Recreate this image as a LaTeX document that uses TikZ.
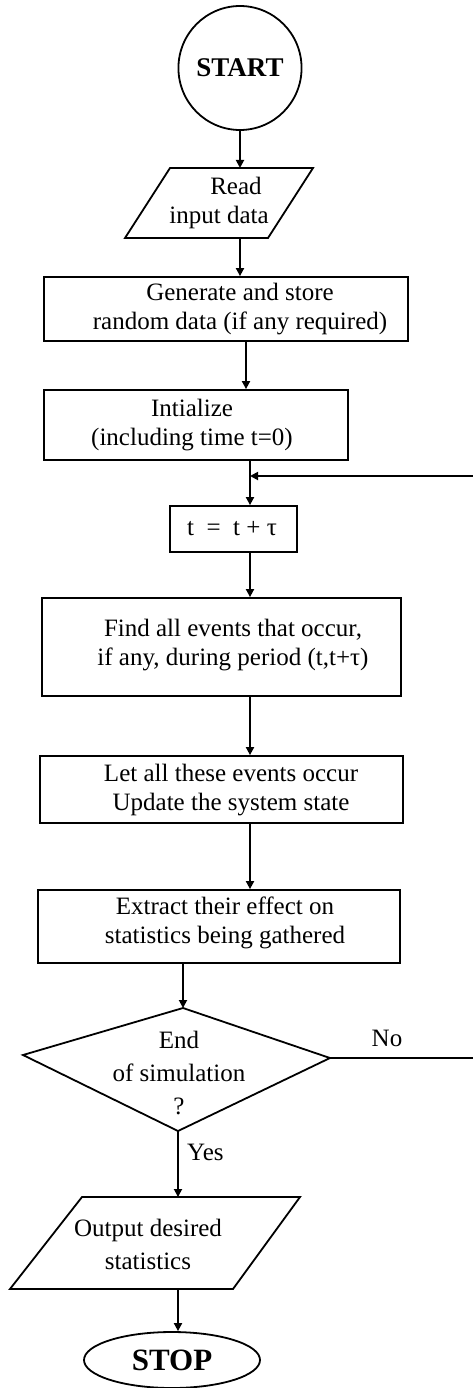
\documentclass[tikz,border=0pt]{standalone}
\usepackage{fontspec}
\setmainfont{Liberation Serif}
\usetikzlibrary{arrows.meta,shapes.geometric}
\begin{document}
\begin{tikzpicture}[x=1pt,y=-1pt,
  every node/.style={font=\fontsize{25}{29}\selectfont, align=center, inner sep=0pt},
  flow/.style={line width=1.8pt},
  arr/.style={flow, -{Triangle[length=8pt,width=8pt]}},
  procbox/.style={draw, line width=1.8pt, rectangle}]
% page
\fill[white] (0,0) rectangle (473,1388);
\useasboundingbox (0,0) rectangle (473,1388);

% spine positions for vertical connectors
\coordinate (spineA) at (246,0);
\coordinate (spine) at (250,0);

% start terminal
\node[ellipse, draw, line width=1.8pt, minimum width=108pt, minimum height=124pt,
      font=\fontsize{27}{30}\selectfont\bfseries] (start) at (240,68) {START};

% read input (parallelogram)
\coordinate (r1) at (170,168);
\coordinate (r2) at (313,168);
\coordinate (r3) at (268,238);
\coordinate (r4) at (125,238);
\draw[flow, line join=miter] (r1) -- (r2) -- (r3) -- (r4) -- cycle;
\node (read) at (219,203) {\hspace*{34pt}Read\\input data};
\coordinate (readtop) at (240,168);
\coordinate (readbot) at (240,238);

% process boxes
\node[procbox, minimum width=364pt, minimum height=64pt] (gen) at (226,309) {};
\node (gent) at (240,309) {Generate and store\\random data (if any required)};

\node[procbox, minimum width=304pt, minimum height=70pt] (init) at (196,425) {};
\node (initt) at (192,425) {Intialize\\(including time t=0)};

\node[procbox, minimum width=127pt, minimum height=46pt] (tbox) at (233.5,529) {};
\node (tboxt) at (232,529) {t\enspace=\enspace t + τ};

\node[procbox, minimum width=359pt, minimum height=98pt] (find) at (221.5,647) {};
\node (findt) at (233,645) {Find all events that occur,\\if any, during period (t,t+τ)};

\node[procbox, minimum width=363pt, minimum height=67pt] (let) at (221.5,789.5) {};
\node (lett) at (231,790) {Let all these events occur\\Update the system state};

\node[procbox, minimum width=362pt, minimum height=73pt] (extract) at (219,926.5) {};
\node (extractt) at (225,923) {Extract their effect on\\statistics being gathered};

% decision
\coordinate (dtop) at (183,1008);
\coordinate (dright) at (330,1058);
\coordinate (dbot) at (178,1131);
\coordinate (dleft) at (23,1055);
\draw[flow, line join=miter] (dtop) -- (dright) -- (dbot) -- (dleft) -- cycle;
\node[font=\fontsize{25}{33}\selectfont] (dtext) at (179,1073) {End\\of simulation\\?};
\node (no) at (387,1038) {No};
\node[anchor=west] (yes) at (187,1152) {Yes};

% output (parallelogram)
\coordinate (o1) at (82,1197);
\coordinate (o2) at (300,1197);
\coordinate (o3) at (233,1289);
\coordinate (o4) at (10,1289);
\draw[flow, line join=miter] (o1) -- (o2) -- (o3) -- (o4) -- cycle;
\node[font=\fontsize{25}{33}\selectfont] (outt) at (148,1244) {Output desired\\statistics};
\coordinate (otop) at (178,1197);
\coordinate (obot) at (178,1289);

% stop terminal
\node[ellipse, draw, line width=1.8pt, minimum width=176pt, minimum height=56pt,
      font=\fontsize{31}{34}\selectfont\bfseries] (stop) at (172,1360) {STOP};

% connectors
\draw[arr] (start.south) -- (readtop);
\draw[arr] (readbot) -- (readbot |- gen.north);
\draw[arr] (gen.south -| spineA) -- (init.north -| spineA);
\coordinate (join) at (250,476);
\draw[flow] (init.south -| spine) -- (join);
\draw[arr] (join) -- (tbox.north -| spine);
\draw[arr] (tbox.south -| spine) -- (find.north -| spine);
\draw[arr] (find.south -| spine) -- (let.north -| spine);
\draw[arr] (let.south -| spine) -- (extract.north -| spine);
\draw[arr] (extract.south -| dtop) -- (dtop);
\draw[arr] (dbot) -- (otop);
\draw[arr] (obot) -- (obot |- stop.north);
% loop back from "No" (the return riser lies just past the right edge)
\draw[arr] (dright) -- (478,1058) -- (478,476) -- (join);
\end{tikzpicture}
\end{document}
